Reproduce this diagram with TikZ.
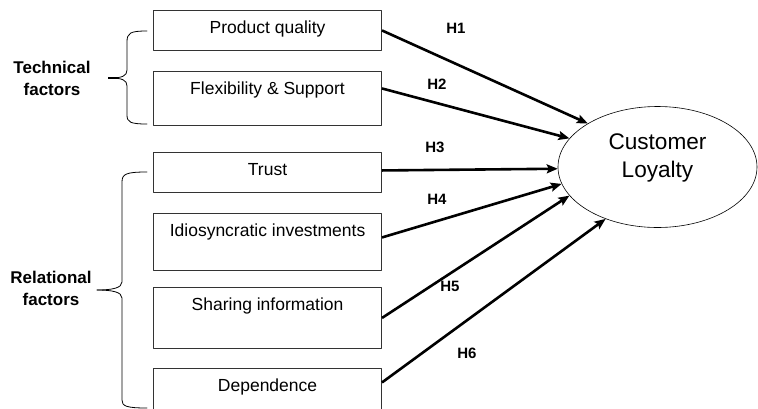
\documentclass[tikz,border=0pt]{standalone}
\usepackage{fontspec}
\setmainfont{Liberation Sans}
\usetikzlibrary{arrows.meta,shapes.geometric}
\begin{document}
\begin{tikzpicture}[x=1pt,y=-1pt,line join=round,>={Stealth[length=11pt,width=9pt,inset=2pt]}]
			\tikzset{factor/.style={draw=black!80,line width=0.9pt,inner sep=0pt,minimum width=228pt,anchor=north east,text height=23pt,font=\fontsize{17.5}{20}\selectfont},
				hyp/.style={font=\bfseries\fontsize{15}{18}\selectfont},
				group/.style={font=\bfseries\fontsize{17}{22}\selectfont,align=center},
				curly/.style={line width=0.8pt,line cap=round},
				link/.style={->,line width=2.6pt}}
			\clip (0,0) rectangle (758,408);
			\node[factor,text depth=17pt] (quality) at (382,10) {Product quality};
			\node[factor,text depth=31pt] (flex) at (382,71) {Flexibility \& Support};
			\node[factor,text depth=17pt] (trust) at (382,152) {Trust};
			\node[factor,text depth=34pt] (idio) at (382,213) {Idiosyncratic investments};
			\node[factor,text depth=38pt] (share) at (382,287) {Sharing information};
			\node[factor,text depth=27pt] (dep) at (382,368) {Dependence};
			\node[draw,ellipse,line width=0.6pt,minimum width=199pt,minimum height=121pt,inner sep=0pt] (loyal) at (657.5,167) {};
			\node[align=center,font=\fontsize{22.6}{28}\selectfont] (loyaltxt) at ([yshift=9pt]loyal.center) {Customer\\Loyalty};
			\draw[link] (quality.east) -- (loyal.148);
			\draw[link] ([yshift=10pt]flex.east) -- (loyal.162);
			\draw[link] ([yshift=2pt]trust.east) -- (loyal.181);
			\draw[link] ([yshift=4.5pt]idio.east) -- (loyal.190);
			\draw[link] (share.east) -- (loyal.198);
			\draw[link] ([yshift=11pt]dep.east) -- (loyal.225);
			\node[hyp] (h1) at (456,28) {H1};
			\node[hyp] (h2) at (437,84) {H2};
			\node[hyp] (h3) at (435,147) {H3};
			\node[hyp] (h4) at (437,199) {H4};
			\node[hyp] (h5) at (450,286) {H5};
			\node[hyp] (h6) at (467,353) {H6};
			\node[group] (tech) at (52,78) {Technical\\factors};
			\node[group] (rel) at (51,288) {Relational\\factors};
			\draw[curly] (147,31) .. controls (130,31) and (127,33) .. (127,42) -- (127,70) .. controls (127,76) and (122,78) .. (110,78);
			\draw[curly] (110,78) .. controls (122,78) and (127,80) .. (127,86) -- (127,115) .. controls (127,122) and (130,124) .. (147,124);
			\draw[line width=2pt] (108,78) -- (118,78);
			\draw[curly] (147,172) .. controls (126,172) and (122,174) .. (122,182) -- (122,282) .. controls (122,288) and (112,290) .. (97,290);
			\draw[curly] (97,290) .. controls (112,290) and (122,292) .. (122,298) -- (122,400) .. controls (122,406) and (126,408) .. (147,408);
		\end{tikzpicture}
\end{document}
